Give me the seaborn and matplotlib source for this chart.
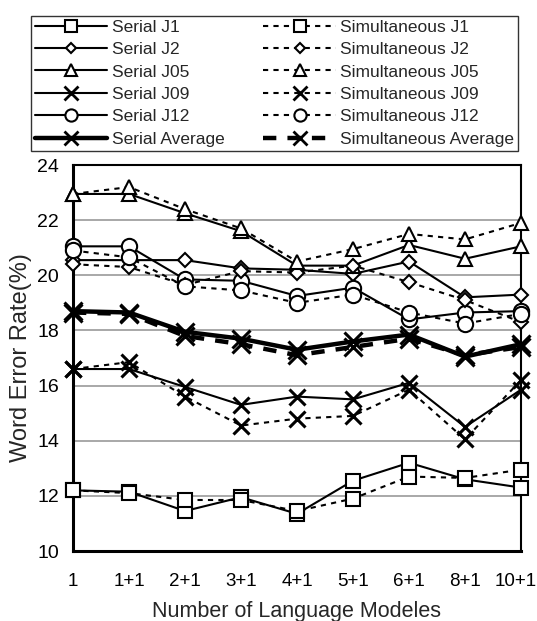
import matplotlib
matplotlib.use("Agg")
import matplotlib.pyplot as plt
import matplotlib.transforms as mtransforms
import seaborn as sns
import pandas as pd
from matplotlib.lines import Line2D

categories = ["1", "1+1", "2+1", "3+1", "4+1", "5+1", "6+1", "8+1", "10+1"]

serial_j1 = [12.2, 12.15, 11.45, 11.95, 11.35, 12.55, 13.2, 12.6, 12.3]
serial_j2 = [20.55, 20.55, 20.55, 20.25, 20.2, 20.05, 20.5, 19.2, 19.3]
serial_j05 = [22.95, 22.95, 22.25, 21.6, 20.35, 20.35, 21.1, 20.6, 21.05]
serial_j09 = [16.6, 16.6, 15.95, 15.3, 15.6, 15.5, 16.1, 14.5, 15.85]
serial_j12 = [21.05, 21.05, 19.85, 19.8, 19.25, 19.55, 18.4, 18.65, 18.7]
serial_avg = [18.7, 18.65, 17.95, 17.7, 17.3, 17.6, 17.85, 17.05, 17.5]

simul_j1 = [12.2, 12.1, 11.85, 11.85, 11.45, 11.9, 12.7, 12.65, 12.95]
simul_j2 = [20.4, 20.3, 19.65, 20.15, 20.1, 20.35, 19.75, 19.1, 18.3]
simul_j05 = [22.95, 23.2, 22.4, 21.7, 20.5, 20.95, 21.5, 21.3, 21.9]
simul_j09 = [16.6, 16.85, 15.6, 14.55, 14.8, 14.9, 15.85, 14.05, 16.2]
simul_j12 = [20.9, 20.65, 19.6, 19.45, 19.0, 19.3, 18.65, 18.25, 18.6]
simul_avg = [18.65, 18.6, 17.8, 17.5, 17.1, 17.4, 17.7, 17.1, 17.4]

serial_names = ["Serial J1", "Serial J2", "Serial J05", "Serial J09", "Serial J12", "Serial Average"]
simul_names = ["Simultaneous J1", "Simultaneous J2", "Simultaneous J05",
               "Simultaneous J09", "Simultaneous J12", "Simultaneous Average"]
serial_vals = [serial_j1, serial_j2, serial_j05, serial_j09, serial_j12, serial_avg]
simul_vals = [simul_j1, simul_j2, simul_j05, simul_j09, simul_j12, simul_avg]
markers = ["s", "D", "^", "x", "o", "x"]
msizes = [10, 7, 10, 12, 11, 13]

sns.set_theme(style="white")
plt.rcParams['font.family'] = ['Liberation Sans', 'DejaVu Sans']

fig = plt.figure(figsize=(5.37, 6.21), dpi=100)
ax = fig.add_axes([73/537, 1 - 551/621, (521-73)/537, (551-165)/621])

pos = list(range(len(categories)))
handles = []
for names, vals, dashed in [(serial_names, serial_vals, False), (simul_names, simul_vals, True)]:
    for i, (name, v) in enumerate(zip(names, vals)):
        is_avg = (i == 5)
        lw = 3.2 if is_avg else 1.5
        ls = (0, (2.5, 2.5)) if dashed else "-"
        if dashed and is_avg:
            ls = (0, (3, 2.5))
        mk = markers[i]
        df = pd.DataFrame({"x": pos, "y": v})
        sns.lineplot(data=df, x="x", y="y", ax=ax, color="black", linewidth=lw,
                     linestyle=ls, marker=mk, markersize=msizes[i],
                     markerfacecolor="white" if mk != "x" else "black",
                     markeredgecolor="black",
                     markeredgewidth=2.2 if mk == "x" else 1.5,
                     clip_on=False, zorder=3, legend=False)
        handles.append(Line2D([0], [0], color="black", linewidth=lw, linestyle=ls,
                              marker=mk, markersize=msizes[i] * 0.8,
                              markerfacecolor="white", markeredgecolor="black",
                              markeredgewidth=2.0 if mk == "x" else 1.5, label=name))

ax.set_xlim(0, len(categories) - 1)
ax.set_ylim(10, 24)
ax.set_yticks([10, 12, 14, 16, 18, 20, 22, 24])
ax.set_xticks(pos)
ax.set_xticklabels(categories)
ax.yaxis.grid(True, color="#999999", linewidth=1.2)
ax.xaxis.grid(False)
for s in ax.spines.values():
    s.set_color("black")
    s.set_linewidth(1.5)
ax.spines["left"].set_linewidth(2.2)
ax.spines["bottom"].set_linewidth(2.2)
ax.tick_params(axis="y", labelsize=14, colors="black", length=0, pad=10)
ax.tick_params(axis="x", labelsize=13.5, colors="black", direction="in",
               length=5, width=1.2, pad=16)
last = ax.get_xticklabels()[-1]
last.set_transform(last.get_transform() +
                   mtransforms.ScaledTranslation(-5/100, 0, fig.dpi_scale_trans))
ax.set_xlabel("Number of Language Modeles", fontsize=15.5, labelpad=8)
ax.set_ylabel("Word Error Rate(%)", fontsize=17, labelpad=4)

leg = fig.legend(handles=handles, ncol=2, loc="upper left", mode="expand",
                 bbox_to_anchor=(22/537, 0, 505/537, 1 - 7/621), frameon=True,
                 fontsize=12.5, handlelength=4.2, columnspacing=1.5,
                 labelspacing=0.42, borderpad=0.22, handletextpad=0.25,
                 fancybox=False, edgecolor="black")
leg.get_frame().set_linewidth(1.0)

fig.savefig("out.png", dpi=100, facecolor="white")
